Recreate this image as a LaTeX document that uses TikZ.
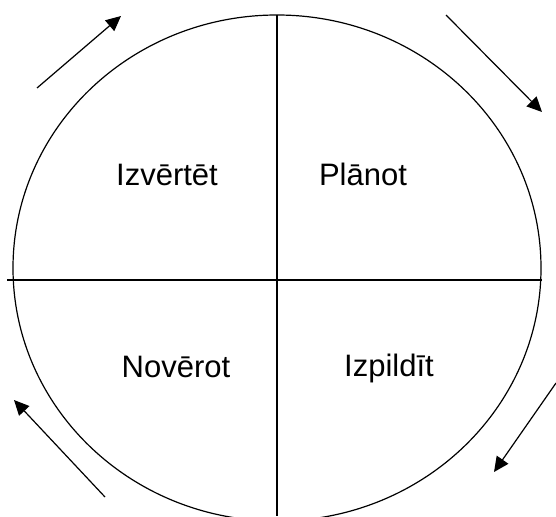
\documentclass[tikz,border=0pt]{standalone}
\usepackage{fontspec}
\setmainfont{Liberation Sans}
\usepackage{tikz}
\usetikzlibrary{positioning, arrows.meta}

\begin{document}
\begin{tikzpicture}[
  x=1pt, y=-1pt,
  font=\fontsize{31}{36}\selectfont,
  line width=1.2pt,
  phase/.style={anchor=base, inner sep=0pt},
  arr/.style={-{Triangle[length=15pt, width=14pt]}, line width=1.2pt}
]
  \useasboundingbox (0,0) rectangle (556,516);
  \clip (0,0) rectangle (556,516);
  % cycle
  \draw (277,268) ellipse [x radius=264, y radius=253];
  \draw (7,280) -- (542,280);
  \draw (277,15) -- (277,516);
  % quadrants
  \node[phase] (izv) at (167,185) {Izvērtēt};
  \node[phase] (pla) at (363,185) {Plānot};
  \node[phase] (nov) at (176,377) {Novērot};
  \node[phase] (izp) at (389,376) {Izpildīt};
  % direction arrows
  \coordinate (tl1) at (37,88);   \coordinate (tl2) at (121,16);
  \coordinate (tr1) at (446,15);  \coordinate (tr2) at (542,112);
  \coordinate (br1) at (556,383); \coordinate (br2) at (494,472);
  \coordinate (bl1) at (105,497); \coordinate (bl2) at (14,400);
  \draw[arr] (tl1) -- (tl2);
  \draw[arr] (tr1) -- (tr2);
  \draw[arr] (br1) -- (br2);
  \draw[arr] (bl1) -- (bl2);
\end{tikzpicture}
\end{document}
